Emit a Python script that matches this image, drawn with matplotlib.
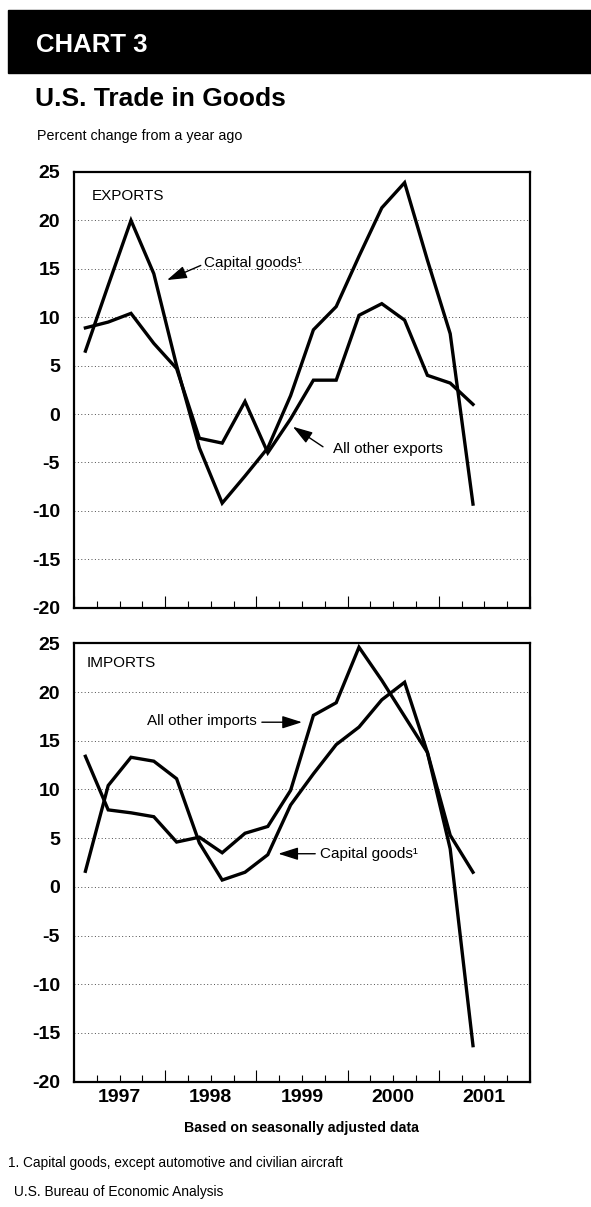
import matplotlib
matplotlib.use("Agg")
import matplotlib.pyplot as plt
import matplotlib.transforms as mtransforms
from matplotlib.patches import Rectangle

plt.rcParams['font.family'] = ['Liberation Sans', 'DejaVu Sans']

# ---------------- data ----------------
quarters = ['1997Q1', '1997Q2', '1997Q3', '1997Q4',
            '1998Q1', '1998Q2', '1998Q3', '1998Q4',
            '1999Q1', '1999Q2', '1999Q3', '1999Q4',
            '2000Q1', '2000Q2', '2000Q3', '2000Q4',
            '2001Q1', '2001Q2']

exports_capital = [6.5, 13.3, 20.0, 14.5, 5.0, -3.5, -9.2, -6.4, -3.5,
                   1.9, 8.7, 11.1, 16.3, 21.3, 23.9, 15.9, 8.3, -9.3]
exports_other = [8.9, 9.5, 10.4, 7.3, 4.7, -2.5, -3.0, 1.3, -4.0,
                 -0.5, 3.5, 3.5, 10.2, 11.4, 9.7, 4.0, 3.2, 1.0]

imports_capital = [1.6, 10.4, 13.3, 12.9, 11.1, 4.5, 0.7, 1.5, 3.3,
                   8.4, 11.6, 14.6, 16.4, 19.2, 21.0, 13.8, 3.9, -16.3]
imports_other = [13.4, 7.9, 7.6, 7.2, 4.6, 5.1, 3.5, 5.5, 6.2,
                 9.9, 17.6, 18.9, 24.6, 21.2, 17.5, 13.8, 5.3, 1.5]

years = [1997, 1998, 1999, 2000, 2001]
year_labels = ['1997', '1998', '1999', '2000', '2001']
y_ticks = [-20, -15, -10, -5, 0, 5, 10, 15, 20, 25]
y_tick_labels = ['-20', '-15', '-10', '-5', '0', '5', '10', '15', '20', '25']

# quarter strings -> position at middle of the quarter
xpos = [int(q[:4]) + (int(q[-1]) - 1) / 4 + 0.125 for q in quarters]

# ---------------- figure ----------------
W, H = 591, 1207
fig = plt.figure(figsize=(W / 100, H / 100), dpi=100)
fig.patch.set_facecolor('white')

def fx(px):
    return px / W

def fy(py):
    return 1 - py / H

# header band
fig.patches.append(Rectangle((fx(8), fy(73)), 1.0, (73 - 10) / H,
                             transform=fig.transFigure, color='black', zorder=0))
fig.text(fx(36), fy(45), 'CHART 3', color='white', fontsize=18.5,
         fontweight='bold', va='center', ha='left')
fig.text(fx(35), fy(106), 'U.S. Trade in Goods', fontsize=19,
         fontweight='bold', va='baseline', ha='left')
fig.text(fx(37), fy(140), 'Percent change from a year ago', fontsize=10.3,
         va='baseline', ha='left')

ax_left, ax_right = 74, 530
ax_e = fig.add_axes([fx(ax_left), fy(607.7), (ax_right - ax_left) / W, (607.7 - 172) / H])
ax_i = fig.add_axes([fx(ax_left), fy(1081.7), (ax_right - ax_left) / W, (1081.7 - 643.3) / H])

LW = 2.4
for ax in (ax_e, ax_i):
    ax.set_xlim(1997, 2002)
    ax.set_ylim(-20, 25)
    ax.set_yticks(y_ticks)
    ax.set_yticklabels(y_tick_labels)
    ax.tick_params(axis='y', length=0, pad=10, labelsize=14)
    for lbl in ax.get_yticklabels():
        lbl.set_fontweight('bold')
    # year boundaries (major) and quarter boundaries (minor)
    ax.set_xticks(years + [2002])
    ax.set_xticklabels([])
    ax.set_xticks([y + q / 4 for y in years for q in (1, 2, 3)], minor=True)
    ax.tick_params(axis='x', which='major', direction='in', length=9, width=0.8,
                   top=False, bottom=True)
    ax.tick_params(axis='x', which='minor', direction='in', length=5, width=0.8,
                   top=False, bottom=True)
    for sp in ax.spines.values():
        sp.set_linewidth(1.6)
    for yv in y_ticks[1:-1]:
        ax.axhline(yv, color='0.3', lw=0.7, ls=(0, (1, 2.5)), zorder=1)

ax_e.plot(xpos, exports_capital, color='black', lw=LW, solid_joinstyle='miter', zorder=3)
ax_e.plot(xpos, exports_other, color='black', lw=LW, solid_joinstyle='miter', zorder=3)
ax_i.plot(xpos, imports_capital, color='black', lw=LW, solid_joinstyle='miter', zorder=3)
ax_i.plot(xpos, imports_other, color='black', lw=LW, solid_joinstyle='miter', zorder=3)

ax_e.text(0.039, 0.946, 'EXPORTS', transform=ax_e.transAxes, fontsize=11,
          ha='left', va='center')
ax_i.text(0.028, 0.954, 'IMPORTS', transform=ax_i.transAxes, fontsize=11,
          ha='left', va='center')

arrow = dict(arrowstyle='-|>,head_length=1.1,head_width=0.35', color='black',
             lw=1.0, shrinkA=0, shrinkB=0, mutation_scale=11)

# exports annotations
ax_e.text(1998.43, 15.6, 'Capital goods\u00b9', fontsize=11, ha='left', va='center')
ax_e.annotate('', xy=(1998.02, 13.84), xytext=(1998.39, 15.35), arrowprops=arrow)
ax_e.text(1999.845, -3.65, 'All other exports', fontsize=11, ha='left', va='center')
ax_e.annotate('', xy=(1999.40, -1.31), xytext=(1999.73, -3.38), arrowprops=arrow)

# imports annotations
ax_i.text(1999.0, 17.0, 'All other imports', fontsize=11, ha='right', va='center')
ax_i.annotate('', xy=(1999.50, 16.9), xytext=(1999.06, 16.9), arrowprops=arrow)
ax_i.text(1999.70, 3.37, 'Capital goods\u00b9', fontsize=11, ha='left', va='center')
ax_i.annotate('', xy=(1999.24, 3.4), xytext=(1999.645, 3.4), arrowprops=arrow)

# year labels under imports panel
trans = mtransforms.blended_transform_factory(ax_i.transData, ax_i.transAxes)
for yv, lab in zip(years, year_labels):
    ax_i.text(yv + 0.5, -0.037, lab, transform=trans, fontsize=14,
              fontweight='bold', ha='center', va='center')

fig.text(fx(301), fy(1128), 'Based on seasonally adjusted data', fontsize=10.2,
         fontweight='bold', ha='center', va='center')
fig.text(fx(8), fy(1163), '1. Capital goods, except automotive and civilian aircraft',
         fontsize=9.8, ha='left', va='center')
fig.text(fx(14), fy(1192), 'U.S. Bureau of Economic Analysis', fontsize=9.9,
         ha='left', va='center')

fig.savefig('out.png', dpi=100, facecolor='white')
